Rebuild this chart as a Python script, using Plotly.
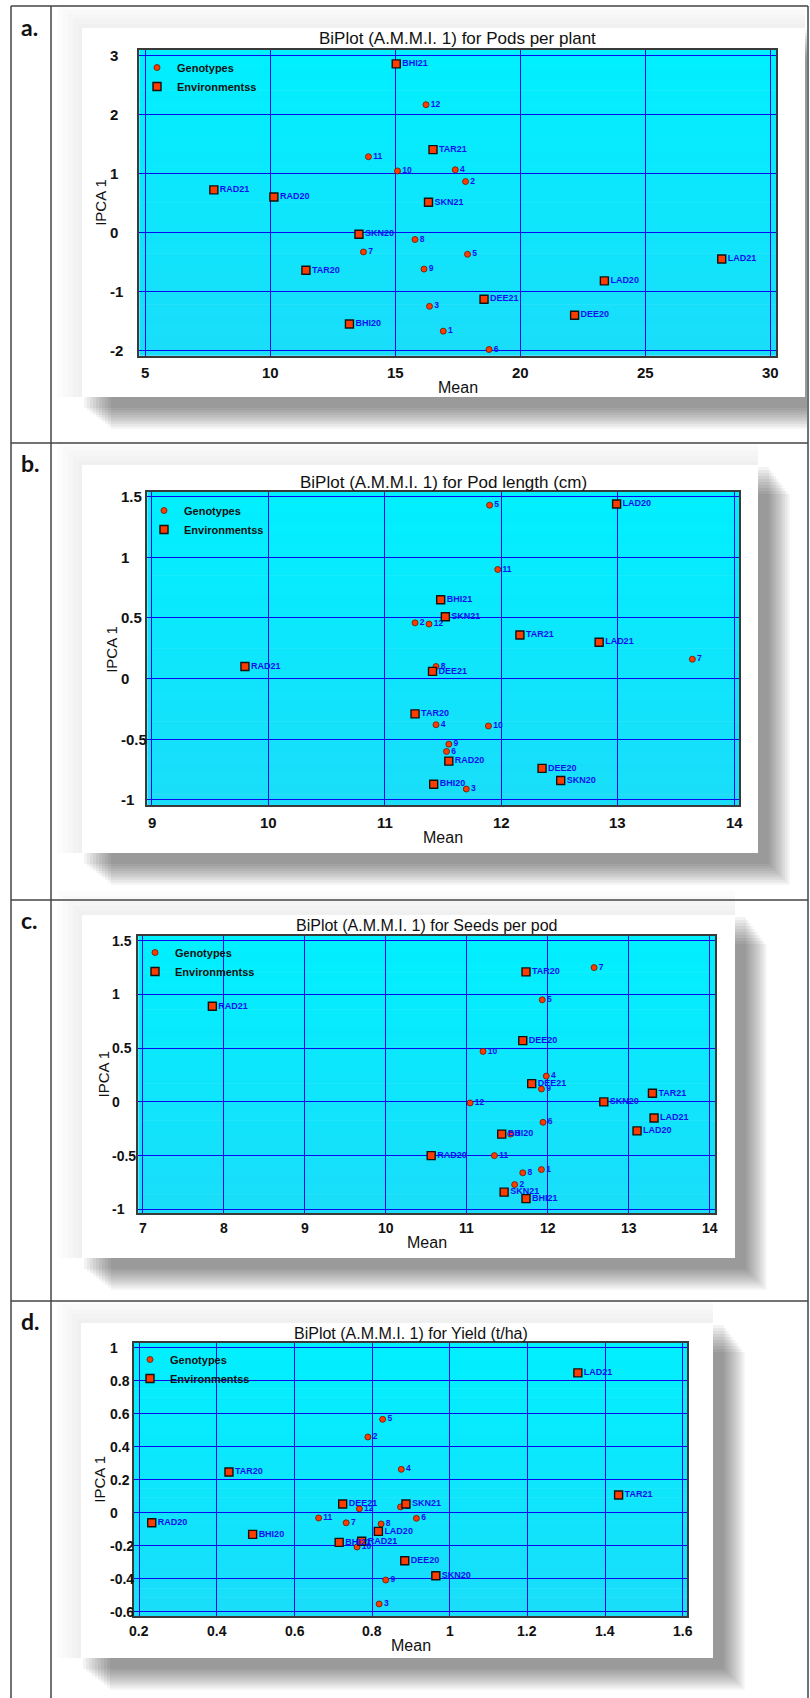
import plotly.graph_objects as go
import numpy as np

W, H = 810, 1698

# ---------------- DATA ----------------
GENOTYPE_NAME = "Genotypes"
ENV_NAME = "Environmentss"
X_TITLE = "Mean"
Y_TITLE = "IPCA 1"
PANEL_TAGS = ["a.", "b.", "c.", "d."]

# a. Pods per plant
A_TITLE = "BiPlot (A.M.M.I. 1) for Pods per plant"
A_GEN_LABELS = ["1", "2", "3", "4", "5", "6", "7", "8", "9", "10", "11", "12"]
A_GEN_X = [16.91, 17.80, 16.36, 17.39, 17.88, 18.74, 13.72, 15.78, 16.14, 15.08, 13.92, 16.22]
A_GEN_Y = [-1.67, 0.86, -1.25, 1.06, -0.37, -1.98, -0.33, -0.12, -0.62, 1.04, 1.28, 2.16]
A_ENV_LABELS = ["BHI21", "TAR21", "RAD21", "RAD20", "SKN21", "SKN20", "TAR20", "LAD21", "LAD20", "DEE21", "DEE20", "BHI20"]
A_ENV_X = [15.03, 16.50, 7.74, 10.14, 16.32, 13.54, 11.42, 28.04, 23.35, 18.54, 22.16, 13.16]
A_ENV_Y = [2.85, 1.40, 0.72, 0.60, 0.51, -0.03, -0.64, -0.45, -0.82, -1.13, -1.40, -1.55]
A_XTICKS = [5, 10, 15, 20, 25, 30]
A_XTICKTEXT = ["5", "10", "15", "20", "25", "30"]
A_YTICKS = [-2, -1, 0, 1, 2, 3]
A_YTICKTEXT = ["-2", "-1", "0", "1", "2", "3"]

# b. Pod length (cm)
B_TITLE = "BiPlot (A.M.M.I. 1) for Pod length (cm)"
B_GEN_LABELS = ["2", "3", "4", "5", "6", "7", "8", "9", "10", "11", "12"]
B_GEN_X = [11.26, 11.70, 11.44, 11.90, 11.53, 13.64, 11.44, 11.55, 11.89, 11.97, 11.38]
B_GEN_Y = [0.46, -0.91, -0.38, 1.43, -0.60, 0.16, 0.10, -0.54, -0.39, 0.90, 0.45]
B_ENV_LABELS = ["RAD21", "BHI21", "SKN21", "DEE21", "TAR20", "RAD20", "BHI20", "LAD20", "TAR21", "LAD21", "DEE20", "SKN20"]
B_ENV_X = [9.80, 11.48, 11.52, 11.41, 11.26, 11.55, 11.42, 12.99, 12.16, 12.84, 12.35, 12.51]
B_ENV_Y = [0.10, 0.65, 0.51, 0.06, -0.29, -0.68, -0.87, 1.44, 0.36, 0.30, -0.74, -0.84]
B_XTICKS = [9, 10, 11, 12, 13, 14]
B_XTICKTEXT = ["9", "10", "11", "12", "13", "14"]
B_YTICKS = [-1, -0.5, 0, 0.5, 1, 1.5]
B_YTICKTEXT = ["-1", "-0.5", "0", "0.5", "1", "1.5"]

# c. Seeds per pod
C_TITLE = "BiPlot (A.M.M.I. 1) for Seeds per pod"
C_GEN_LABELS = ["1", "2", "3", "4", "5", "6", "7", "8", "9", "10", "11", "12"]
C_GEN_X = [11.92, 11.59, 11.54, 11.98, 11.93, 11.94, 12.57, 11.69, 11.92, 11.20, 11.34, 11.04]
C_GEN_Y = [-0.63, -0.77, -0.30, 0.24, 0.95, -0.19, 1.25, -0.66, 0.12, 0.47, -0.50, -0.01]
C_ENV_LABELS = ["RAD21", "RAD20", "TAR20", "DEE20", "DEE21", "TAR21", "SKN20", "LAD21", "LAD20", "BHI20", "SKN21", "BHI21"]
C_ENV_X = [7.86, 10.56, 11.73, 11.69, 11.80, 13.29, 12.69, 13.31, 13.10, 11.43, 11.46, 11.73]
C_ENV_Y = [0.89, -0.50, 1.21, 0.57, 0.17, 0.08, 0.00, -0.15, -0.27, -0.30, -0.84, -0.90]
C_XTICKS = [7, 8, 9, 10, 11, 12, 13, 14]
C_XTICKTEXT = ["7", "8", "9", "10", "11", "12", "13", "14"]
C_YTICKS = [-1, -0.5, 0, 0.5, 1, 1.5]
C_YTICKTEXT = ["-1", "-0.5", "0", "0.5", "1", "1.5"]

# d. Yield (t/ha)
D_TITLE = "BiPlot (A.M.M.I. 1) for Yield (t/ha)"
D_GEN_LABELS = ["1", "2", "3", "4", "5", "6", "7", "8", "9", "10", "11", "12"]
D_GEN_X = [0.873, 0.789, 0.818, 0.875, 0.827, 0.914, 0.733, 0.823, 0.835, 0.761, 0.662, 0.767]
D_GEN_Y = [0.035, 0.459, -0.553, 0.263, 0.566, -0.034, -0.061, -0.068, -0.408, -0.208, -0.032, 0.024]
D_ENV_LABELS = ["TAR20", "LAD21", "TAR21", "DEE21", "SKN21", "RAD20", "LAD20", "BHI20", "BHI21", "RAD21", "DEE20", "SKN20"]
D_ENV_X = [0.431, 1.330, 1.435, 0.724, 0.887, 0.232, 0.816, 0.492, 0.715, 0.773, 0.884, 0.964]
D_ENV_Y = [0.247, 0.848, 0.107, 0.053, 0.053, -0.061, -0.113, -0.131, -0.180, -0.173, -0.291, -0.382]
D_XTICKS = [0.2, 0.4, 0.6, 0.8, 1.0, 1.2, 1.4, 1.6]
D_XTICKTEXT = ["0.2", "0.4", "0.6", "0.8", "1", "1.2", "1.4", "1.6"]
D_YTICKS = [-0.6, -0.4, -0.2, 0, 0.2, 0.4, 0.6, 0.8, 1.0]
D_YTICKTEXT = ["-0.6", "-0.4", "-0.2", "0", "0.2", "0.4", "0.6", "0.8", "1"]

panels = [
    dict(title=A_TITLE, gl=A_GEN_LABELS, gx=A_GEN_X, gy=A_GEN_Y, el=A_ENV_LABELS, ex=A_ENV_X, ey=A_ENV_Y,
         xt=A_XTICKS, xtt=A_XTICKTEXT, yt=A_YTICKS, ytt=A_YTICKTEXT),
    dict(title=B_TITLE, gl=B_GEN_LABELS, gx=B_GEN_X, gy=B_GEN_Y, el=B_ENV_LABELS, ex=B_ENV_X, ey=B_ENV_Y,
         xt=B_XTICKS, xtt=B_XTICKTEXT, yt=B_YTICKS, ytt=B_YTICKTEXT),
    dict(title=C_TITLE, gl=C_GEN_LABELS, gx=C_GEN_X, gy=C_GEN_Y, el=C_ENV_LABELS, ex=C_ENV_X, ey=C_ENV_Y,
         xt=C_XTICKS, xtt=C_XTICKTEXT, yt=C_YTICKS, ytt=C_YTICKTEXT),
    dict(title=D_TITLE, gl=D_GEN_LABELS, gx=D_GEN_X, gy=D_GEN_Y, el=D_ENV_LABELS, ex=D_ENV_X, ey=D_ENV_Y,
         xt=D_XTICKS, xtt=D_XTICKTEXT, yt=D_YTICKS, ytt=D_YTICKTEXT),
]

# ---------------- GEOMETRY / STYLE (pixels) ----------------
GEOM = [
    dict(plot=(139.3, 50, 776, 355.7), card=(82, 28, 805, 397), xr=(4.76, 30.21), yr=(-2.085, 3.085),
         title_y=38, title_size=17, mean_y=387, ipca_x=101, ytick_x=108, xtick_y=372, tick_size=15,
         leg=(157, 66), tag_y=27),
    dict(plot=(147.3, 492.3, 739.3, 805.3), card=(82, 465, 758, 853), xr=(8.962, 14.043), yr=(-1.044, 1.536),
         title_y=482, title_size=17, mean_y=838, ipca_x=112, ytick_x=119, xtick_y=822, tick_size=15,
         leg=(164, 509), tag_y=463),
    dict(plot=(138.3, 935.7, 715, 1213.3), card=(82, 915, 735, 1258), xr=(6.946, 14.062), yr=(-1.037, 1.547),
         title_y=925, title_size=16, mean_y=1242, ipca_x=103, ytick_x=110, xtick_y=1228, tick_size=14,
         leg=(155, 951), tag_y=920),
    dict(plot=(134, 1343.3, 687.3, 1616), card=(81, 1323, 713, 1658), xr=(0.1863, 1.612), yr=(-0.626, 1.027),
         title_y=1333, title_size=16, mean_y=1645, ipca_x=100, ytick_x=108, xtick_y=1631, tick_size=14,
         leg=(150, 1358), tag_y=1321),
]

NARROW = "Liberation Sans Narrow, Arial Narrow, Liberation Sans, Arial, sans-serif"
ARIAL = "Liberation Sans, Arial, sans-serif"
GRID_BLUE = "#0A0AF0"
LABEL_BLUE = "#1010F0"
MARK_RED = "#FF3C00"


def fx(px):
    return px / W


def fy(py):
    return 1 - py / H


fig = go.Figure()
shapes = []
annotations = []
layout_extra = {}

top_col = np.array([0, 240, 255])
bot_col = np.array([26, 221, 250])
NB = 30

for i, (p, g) in enumerate(zip(panels, GEOM)):
    n = "" if i == 0 else str(i + 1)
    xref, yref = "x" + n, "y" + n
    leg = "legend" + n
    L, T, R, B = g["plot"]
    cx0, cy0, cx1, cy1 = g["card"]

    # soft glow around card
    for k in range(5):
        m = 4 + 5 * k
        shapes.append(dict(type="rect", xref="paper", yref="paper", layer="below",
                           x0=fx(cx0 - m), x1=fx(cx1), y0=fy(cy1), y1=fy(cy0 - m),
                           fillcolor="rgba(0,0,0,0.012)", line=dict(width=0)))
    # drop shadow (bottom/right)
    for k in range(10):
        grow = 11 + 2.3 * k
        shrink = 2 + 3 * k
        shapes.append(dict(type="rect", xref="paper", yref="paper", layer="below",
                           x0=fx(cx0 + shrink), x1=fx(min(cx1 + grow, 807)),
                           y0=fy(cy1 + grow), y1=fy(cy0 + shrink),
                           fillcolor="rgba(0,0,0,0.047)", line=dict(width=0)))
    # white card
    shapes.append(dict(type="rect", xref="paper", yref="paper", layer="below",
                       x0=fx(cx0), x1=fx(cx1), y0=fy(cy1), y1=fy(cy0),
                       fillcolor="white", line=dict(width=0)))
    # gradient plot background
    for k in range(NB):
        t = (k + 0.5) / NB
        c = top_col * (1 - t) + bot_col * t
        shapes.append(dict(type="rect", xref=xref + " domain", yref=yref + " domain", layer="below",
                           x0=0, x1=1, y0=1 - (k + 1) / NB, y1=1 - k / NB + 0.002,
                           fillcolor="rgb(%d,%d,%d)" % tuple(c.round().astype(int)), line=dict(width=0)))

    layout_extra["xaxis" + n] = dict(
        domain=[fx(L), fx(R)], range=list(g["xr"]), anchor=yref, tickvals=p["xt"],
        showgrid=True, gridcolor=GRID_BLUE, gridwidth=1, zeroline=False,
        showline=True, mirror=True, linecolor="#3a3a3a", linewidth=1.5,
        showticklabels=False, ticks="", fixedrange=True)
    layout_extra["yaxis" + n] = dict(
        domain=[fy(B), fy(T)], range=list(g["yr"]), anchor=xref, tickvals=p["yt"],
        showgrid=True, gridcolor=GRID_BLUE, gridwidth=1, zeroline=False,
        showline=True, mirror=True, linecolor="#3a3a3a", linewidth=1.5,
        showticklabels=False, ticks="", fixedrange=True)

    lx, ly = g["leg"]
    layout_extra[leg] = dict(
        x=fx(lx - 20), y=fy(ly - 13), xanchor="left", yanchor="top", xref="paper", yref="paper",
        bgcolor="rgba(0,0,0,0)", borderwidth=0, itemsizing="trace", tracegroupgap=0,
        font=dict(family=NARROW, size=11, color="#111", weight="bold"))

    fig.add_trace(go.Scatter(
        x=p["gx"], y=p["gy"], text=p["gl"], mode="markers+text", textposition="middle right",
        name=GENOTYPE_NAME, legend=leg, xaxis=xref, yaxis=yref,
        marker=dict(symbol="circle", size=6, color=MARK_RED, line=dict(color="#6a1800", width=0.8)),
        textfont=dict(family=ARIAL, size=8.5, color=LABEL_BLUE, weight="bold"), hoverinfo="skip"))
    fig.add_trace(go.Scatter(
        x=p["ex"], y=p["ey"], text=p["el"], mode="markers+text", textposition="middle right",
        name=ENV_NAME, legend=leg, xaxis=xref, yaxis=yref,
        marker=dict(symbol="square", size=8, color=MARK_RED, line=dict(color="#111", width=1.4)),
        textfont=dict(family=ARIAL, size=9, color=LABEL_BLUE, weight="bold"), hoverinfo="skip"))

    # titles
    annotations.append(dict(text=p["title"], xref="paper", yref="paper", x=fx((L + R) / 2), y=fy(g["title_y"]),
                            xanchor="center", yanchor="middle", showarrow=False,
                            font=dict(family=ARIAL, size=g["title_size"], color="#111")))
    annotations.append(dict(text=X_TITLE, xref="paper", yref="paper", x=fx((L + R) / 2), y=fy(g["mean_y"]),
                            xanchor="center", yanchor="middle", showarrow=False,
                            font=dict(family=ARIAL, size=16, color="#111")))
    annotations.append(dict(text=Y_TITLE, xref="paper", yref="paper", x=fx(g["ipca_x"]), y=fy((T + B) / 2),
                            xanchor="center", yanchor="middle", showarrow=False, textangle=-90,
                            font=dict(family=ARIAL, size=15, color="#111")))
    # tick labels
    for v, t in zip(p["xt"], p["xtt"]):
        annotations.append(dict(text=t, xref=xref, yref="paper", x=v, y=fy(g["xtick_y"]),
                                xanchor="center", yanchor="middle", showarrow=False,
                                font=dict(family=ARIAL, size=g["tick_size"], color="#111", weight="bold")))
    for v, t in zip(p["yt"], p["ytt"]):
        annotations.append(dict(text=t, xref="paper", yref=yref, x=fx(g["ytick_x"]), y=v,
                                xanchor="left", yanchor="middle", showarrow=False,
                                font=dict(family=ARIAL, size=g["tick_size"], color="#111", weight="bold")))
    # panel tag
    annotations.append(dict(text=PANEL_TAGS[i], xref="paper", yref="paper", x=fx(19), y=fy(g["tag_y"]),
                            xanchor="left", yanchor="middle", showarrow=False,
                            font=dict(family="Lato, Open Sans, sans-serif", size=23, color="#111", weight="bold")))

# table lines
LINE = dict(color="#454545", width=1.5)
for (x0, y0, x1, y1) in [(11, 6, 808, 6), (11, 6, 11, H), (808, 6, 808, H), (51, 6, 51, H),
                         (11, 443, 808, 443), (11, 900, 808, 900), (11, 1301, 808, 1301)]:
    shapes.append(dict(type="line", xref="paper", yref="paper", x0=fx(x0), x1=fx(x1), y0=fy(y0), y1=fy(y1),
                       line=LINE, layer="above"))

fig.update_layout(
    width=W, height=H, margin=dict(l=0, r=0, t=0, b=0),
    paper_bgcolor="white", plot_bgcolor="rgba(0,0,0,0)",
    shapes=shapes, annotations=annotations, showlegend=True,
    **layout_extra)

fig.write_html("out.html", config={"displayModeBar": False},
               post_script="document.body.style.margin='0';document.body.style.overflow='hidden';")
